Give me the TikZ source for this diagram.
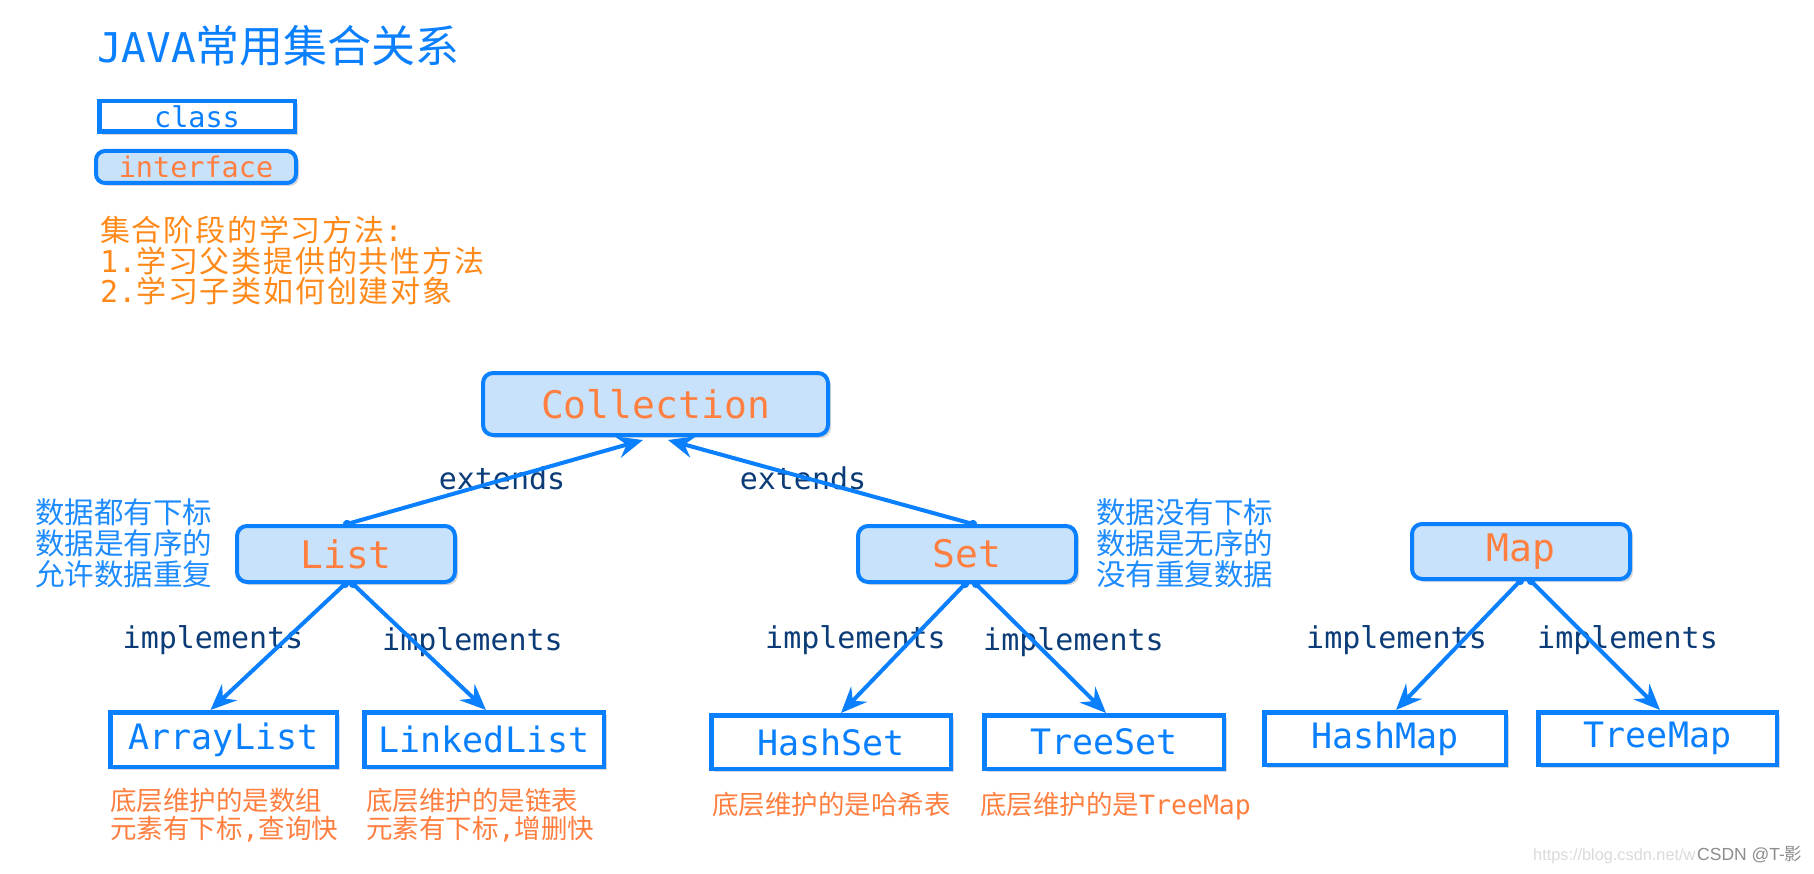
\documentclass[tikz,border=0pt]{standalone}
\usepackage{fontspec}
\setmainfont{DejaVu Sans Mono}
\newfontfamily\cjk{Noto Sans CJK SC}
\newfontfamily\cjkw{Noto Sans CJK SC}[LetterSpace=6]
\newfontfamily\wmfont{Liberation Sans}
\usetikzlibrary{arrows.meta,shadows}
\definecolor{bblue}{HTML}{0A80FF}
\definecolor{lfill}{HTML}{C8E2FC}
\definecolor{otext}{HTML}{FF7F40}
\definecolor{onotec}{HTML}{FF8A1A}
\definecolor{navy}{HTML}{0B3C78}
\definecolor{bnote}{HTML}{1E8CFF}
\definecolor{wmlight}{HTML}{DADADA}
\definecolor{wmdark}{HTML}{8C8C8C}
\newcommand\fsz[2]{\fontsize{#1}{#2}\selectfont\lineskiplimit=-40pt}
\begin{document}
\begin{tikzpicture}[x=1pt,y=-1pt,
  shad/.style={drop shadow={shadow xshift=3pt,shadow yshift=-3pt,opacity=0.3}},
  iface/.style={draw=bblue,line width=4pt,fill=lfill,rounded corners=10pt,shad,text=otext,inner sep=0pt},
  cls/.style={draw=bblue,line width=4.5pt,fill=white,shad,text=bblue,inner sep=0pt},
  lbl/.style={text=navy,anchor=base,inner sep=0pt,font=\fsz{30}{32}},
  onotes/.style={text=otext,anchor=north west,align=left,inner sep=0pt,font=\fsz{26.5}{27.5}},
  bnotes/.style={text=bnote,anchor=north west,align=left,inner sep=0pt,font=\cjk\fsz{29.5}{31}},
  conn/.style={draw=bblue,line width=4pt,{Circle[length=8pt]}-{Stealth[length=26pt,width=22pt,inset=9pt]},shorten <=-4pt}
]
\fill[white] (0,0) rectangle (1814,874);
\useasboundingbox (0,0) rectangle (1814,874);

% title
\node[anchor=base west,inner sep=0pt,text=bblue] (title) at (97,63)
  {\fsz{41}{44}JAVA{\cjk\fsz{44}{44}常用集合关系}};

% legend
\node[cls,minimum width=195.5pt,minimum height=30.5pt,font=\fsz{28.5}{30}] (legcls) at (197,116.5) {class};
\node[iface,minimum width=200pt,minimum height=32pt,rounded corners=9pt,font=\fsz{28.5}{30}] (legif) at (196,167) {interface};

% method note
\node[text=onotec,anchor=north west,align=left,inner sep=0pt,font=\fsz{30}{30.5}] (method) at (100,216)
  {{\cjkw 集合阶段的学习方法}:\\1.{\cjkw 学习父类提供的共性方法}\\2.{\cjkw 学习子类如何创建对象}};

% interfaces
\node[iface,minimum width=345pt,minimum height=62pt,font=\fsz{38}{40}] (coll) at (655.5,404) {Collection};
\node[iface,minimum width=218pt,minimum height=56pt,font=\fsz{38}{40}] (list) at (346,554) {List};
\node[iface,minimum width=218pt,minimum height=56pt,font=\fsz{38}{40}] (set) at (967,554) {Set};
\node[iface,minimum width=218pt,minimum height=55pt,font=\fsz{38}{40}] (map) at (1521,551.5) {Map};

% classes
\node[cls,minimum width=226.5pt,minimum height=54.5pt,font=\fsz{35}{38}] (alist) at (223.5,739.5) {ArrayList};
\node[cls,minimum width=239.5pt,minimum height=54.5pt,font=\fsz{35}{38}] (llist) at (484,739.5) {LinkedList};
\node[cls,minimum width=239.5pt,minimum height=53.5pt,font=\fsz{35}{38}] (hset) at (831,742) {HashSet};
\node[cls,minimum width=239.5pt,minimum height=53.5pt,font=\fsz{35}{38}] (tset) at (1104,742) {TreeSet};
\node[cls,minimum width=241.5pt,minimum height=52.5pt,font=\fsz{35}{38}] (hmap) at (1385,738.5) {HashMap};
\node[cls,minimum width=238.5pt,minimum height=52.5pt,font=\fsz{35}{38}] (tmap) at (1657.5,738.5) {TreeMap};

% blue notes
\node[bnotes] (listnote) at (35,498) {数据都有下标\\数据是有序的\\允许数据重复};
\node[bnotes] (setnote) at (1096,498) {数据没有下标\\数据是无序的\\没有重复数据};

% orange notes under classes
\node[onotes] (alnote) at (110,788) {{\cjk 底层维护的是数组}\\{\cjk 元素有下标},{\cjk 查询快}};
\node[onotes] (llnote) at (366,788) {{\cjk 底层维护的是链表}\\{\cjk 元素有下标},{\cjk 增删快}};
\node[onotes] (hsnote) at (712,792) {{\cjk 底层维护的是哈希表}};
\node[onotes] (tsnote) at (980,792) {{\cjk 底层维护的是}TreeMap};

% labels
\node[lbl] (ext1) at (502,489) {extends};
\node[lbl] (ext2) at (803,489) {extends};
\node[lbl] (imp1) at (213,648) {implements};
\node[lbl] (imp2) at (472.5,650) {implements};
\node[lbl] (imp3) at (855.5,648) {implements};
\node[lbl] (imp4) at (1073.5,650) {implements};
\node[lbl] (imp5) at (1396.5,648) {implements};
\node[lbl] (imp6) at (1627.5,648) {implements};

% connectors
\draw[conn] ([xshift=1pt]list.north) -- ([xshift=-12.5pt,yshift=-3pt]coll.south);
\draw[conn] ([xshift=6pt]set.north) -- ([xshift=12.5pt,yshift=-3pt]coll.south);
\draw[conn] ([xshift=-1pt]list.south) -- ([xshift=-13pt]alist.north);
\draw[conn] ([xshift=7pt]list.south) -- ([xshift=2pt]llist.north);
\draw[conn] ([xshift=-2pt]set.south) -- ([xshift=10pt]hset.north);
\draw[conn] ([xshift=9pt]set.south) -- ([xshift=2pt]tset.north);
\draw[conn] ([xshift=-1pt]map.south) -- ([xshift=11pt]hmap.north);
\draw[conn] ([xshift=10pt]map.south) -- ([xshift=2.5pt]tmap.north);

% watermark
\node[anchor=base west,inner sep=0pt,text=wmlight,font=\wmfont\fsz{16.3}{18}] (url) at (1533,860) {https://blog.csdn.net/w};
\node[anchor=base west,inner sep=0pt,text=wmdark,font=\wmfont\fsz{17.5}{19}] (csdn) at (1697,860) {CSDN @T-{\cjk 影}};
\end{tikzpicture}
\end{document}
